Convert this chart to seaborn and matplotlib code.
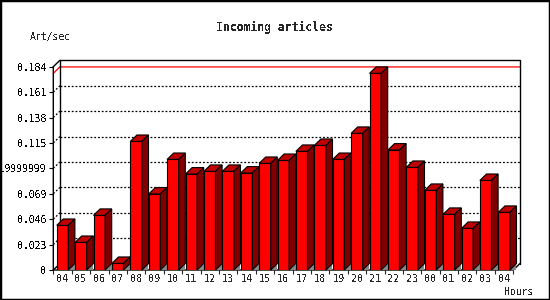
import matplotlib
matplotlib.use("Agg")

import matplotlib.pyplot as plt
from matplotlib.patches import Polygon, Rectangle
import numpy as np
import pandas as pd
import seaborn as sns

# ─── DATA ────────────────────────────────────────────────────────
HOURS = ["04", "05", "06", "07", "08", "09", "10", "11", "12", "13", "14", "15", "16",
         "17", "18", "19", "20", "21", "22", "23", "00", "01", "02", "03", "04"]
RATES = [0.0404, 0.0250, 0.0495, 0.0060, 0.1164, 0.0688, 0.1001, 0.0869, 0.0893,
         0.0893, 0.0878, 0.0965, 0.0992, 0.1074, 0.1128, 0.1001, 0.1237, 0.1780,
         0.1086, 0.0929, 0.0721, 0.0504, 0.0377, 0.0811, 0.0522]
Y_TICKS = [0, 0.023, 0.046, 0.069, 0.092, 0.115, 0.138, 0.161, 0.184]
Y_LABELS = ["0", "0.023", "0.046", "0.069", "0.0919999999", "0.115", "0.138", "0.161", "0.184"]

# ─── STYLE ───────────────────────────────────────────────────────
FRONT = "#FF0000"
TOP = "#C00000"
SIDE = "#800000"
FLOOR = "#888888"
W, H, DPI = 550, 300, 100
DEPTH_X, DEPTH_Y = 6.6, 6.4   # pixels of 3D depth

sns.set_style("white")
plt.rcParams["font.family"] = ["DejaVu Sans Mono"]
plt.rcParams["text.antialiased"] = False

df = pd.DataFrame({"slot": range(len(RATES)), "rate": RATES})

fig = plt.figure(figsize=(W / DPI, H / DPI), dpi=DPI)
left, right, bottom, top = 53.3, 513.3, 270, 66.7
ax = fig.add_axes([left / W, 1 - bottom / H, (right - left) / W, (bottom - top) / H])
ax.set_facecolor("none")

sns.barplot(data=df, x="slot", y="rate", color=FRONT, saturation=1, width=0.63,
            edgecolor="black", linewidth=0.8, ax=ax, zorder=3)

n = len(RATES)
x0, x1 = -0.5, n - 0.5
y0, y1 = Y_TICKS[0], Y_TICKS[-1]
ax.set_xlim(x0, x1)
ax.set_ylim(y0, y1)
dx = DEPTH_X * (x1 - x0) / (right - left)
dy = DEPTH_Y * (y1 - y0) / (bottom - top)

# back plane gridlines + wall lines
for t in Y_TICKS[1:-1]:
    ax.plot([x0 + dx, x1 + dx], [t + dy, t + dy], color="black", lw=0.9,
            ls=(0, (1.5, 1.5)), clip_on=False, zorder=1)
    ax.plot([x0, x0 + dx], [t, t + dy], color="black", lw=0.9,
            ls=(0, (1.5, 1.5)), clip_on=False, zorder=1)

# max line
mx = max(RATES)
ax.plot([x0, x0 + dx, x1 + dx], [mx, mx + dy, mx + dy], color="red", lw=0.9,
        clip_on=False, zorder=2)

# 3D box
box = dict(color="black", lw=1.0, clip_on=False, zorder=2)
ax.plot([x0 + dx, x0 + dx, x1 + dx, x1 + dx], [y0 + dy, y1 + dy, y1 + dy, y0 + dy], **box)
ax.plot([x0, x0 + dx], [y1, y1 + dy], **box)
ax.plot([x0, x0, x0 + dx], [y1, y0, y0 + dy], **box)
ax.plot([x0, x1, x1 + dx], [y0, y0, y0 + dy], **box)

# top, side faces and floor shadow of each bar
for bar, v in zip(ax.patches[:n], RATES):
    xl = bar.get_x()
    xr = xl + bar.get_width()
    ax.add_patch(Polygon([(xr, y0), (xr + dx, y0), (xr + dx, y0 + dy)], closed=True,
                         fc=FLOOR, ec="none", clip_on=False, zorder=2.5))
    ax.add_patch(Polygon([(xl, v), (xr, v), (xr + dx, v + dy), (xl + dx, v + dy)], closed=True,
                         fc=TOP, ec="black", lw=0.8, clip_on=False, zorder=3))
    ax.add_patch(Polygon([(xr, y0), (xr, v), (xr + dx, v + dy), (xr + dx, y0 + dy)], closed=True,
                         fc=SIDE, ec="black", lw=0.8, clip_on=False, zorder=3))

for s in ax.spines.values():
    s.set_visible(False)

ax.set_yticks(Y_TICKS, Y_LABELS, fontsize=7)
ax.tick_params(axis="y", left=True, length=3, width=0.8, pad=2, colors="black")
ax.set_xticks(np.arange(n + 1) - 0.5, [""] * (n + 1))
ax.set_xticks(np.arange(n), HOURS, minor=True, fontsize=7.3)
ax.tick_params(axis="x", which="major", bottom=True, length=3, width=0.8)
ax.tick_params(axis="x", which="minor", bottom=False, length=0, pad=3)
ax.set_xlabel("")
ax.set_ylabel("")

fig.text(274 / W, 1 - 27 / H, "Incoming articles", ha="center", va="center",
         fontsize=8.3, fontweight="bold")
fig.text(30 / W, 1 - 37 / H, "Art/sec", ha="left", va="center", fontsize=7)
fig.text(534 / W, 1 - 292 / H, "Hours", ha="right", va="center", fontsize=7)

fig.add_artist(Rectangle((0, 0), 1, 1, transform=fig.transFigure, fill=False,
                         ec="black", lw=2.5))

fig.savefig("out.png", dpi=DPI, facecolor="white")
plt.close(fig)
